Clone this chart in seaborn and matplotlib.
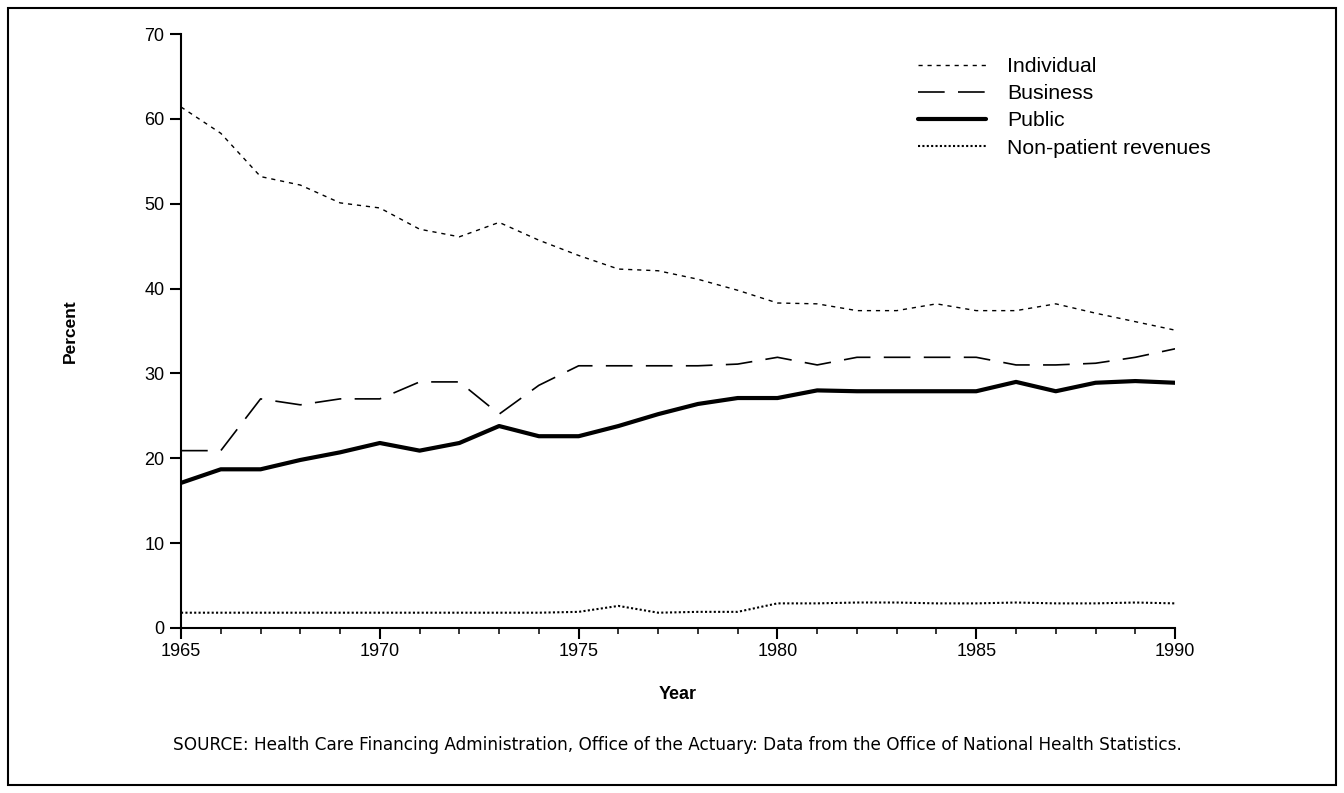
import matplotlib
matplotlib.use("Agg")
import matplotlib.pyplot as plt
from matplotlib.patches import Rectangle
from matplotlib.ticker import MultipleLocator
import seaborn as sns
import pandas as pd

# ---------------------------
# Data
# ---------------------------
years = list(range(1965, 1991))
individual = [61.4, 58.3, 53.2, 52.2, 50.1, 49.5, 47.0, 46.1, 47.8, 45.7, 43.9, 42.3, 42.1,
              41.1, 39.8, 38.3, 38.2, 37.4, 37.4, 38.2, 37.4, 37.4, 38.2, 37.1, 36.1, 35.1]
business = [20.9, 20.9, 27.0, 26.3, 27.0, 27.0, 29.0, 29.0, 25.2, 28.6, 30.9, 30.9, 30.9,
            30.9, 31.1, 31.9, 31.0, 31.9, 31.9, 31.9, 31.9, 31.0, 31.0, 31.2, 31.9, 32.9]
public = [17.1, 18.7, 18.7, 19.8, 20.7, 21.8, 20.9, 21.8, 23.8, 22.6, 22.6, 23.8, 25.2,
          26.4, 27.1, 27.1, 28.0, 27.9, 27.9, 27.9, 27.9, 29.0, 27.9, 28.9, 29.1, 28.9]
nonpatient = [1.8, 1.8, 1.8, 1.8, 1.8, 1.8, 1.8, 1.8, 1.8, 1.8, 1.9, 2.6, 1.8,
              1.9, 1.9, 2.9, 2.9, 3.0, 3.0, 2.9, 2.9, 3.0, 2.9, 2.9, 3.0, 2.9]

series_names = ["Individual", "Business", "Public", "Non-patient revenues"]
source_note = ("SOURCE: Health Care Financing Administration, Office of the Actuary: "
               "Data from the Office of National Health Statistics.")

df = pd.concat([
    pd.DataFrame({"Year": years, "Percent": vals, "Source": name})
    for name, vals in zip(series_names, [individual, business, public, nonpatient])
], ignore_index=True)

# ---------------------------
# Style
# ---------------------------
sns.set_theme(style="ticks")
plt.rcParams["font.family"] = ["Liberation Sans", "DejaVu Sans"]
plt.rcParams["axes.edgecolor"] = "black"
plt.rcParams["text.color"] = "black"

fig = plt.figure(figsize=(13.44, 7.93), dpi=100)
ax = fig.add_axes([0.1347, 0.2081, 0.7396, 0.7490])

sns.lineplot(
    data=df, x="Year", y="Percent", hue="Source", style="Source", size="Source",
    hue_order=series_names, style_order=series_names, size_order=series_names,
    palette={n: "black" for n in series_names},
    dashes={"Individual": (3, 3.5), "Business": (16, 8), "Public": "",
            "Non-patient revenues": (1, 1.1)},
    sizes={"Individual": 1.0, "Business": 1.2, "Public": 3.0, "Non-patient revenues": 1.5},
    legend=False, ax=ax,
)

ax.set_xlim(1965, 1990)
ax.set_ylim(0, 70)
ax.xaxis.set_major_locator(MultipleLocator(5))
ax.xaxis.set_minor_locator(MultipleLocator(1))
ax.yaxis.set_major_locator(MultipleLocator(10))
ax.tick_params(axis="both", which="major", length=8, width=1.5, labelsize=13, colors="black")
ax.tick_params(axis="x", which="minor", length=4, width=1.3)
ax.tick_params(axis="x", which="major", pad=3)
ax.tick_params(axis="y", which="major", pad=4)
for side in ["left", "bottom"]:
    ax.spines[side].set_linewidth(1.5)
sns.despine(ax=ax)

ax.set_xlabel("")
ax.set_ylabel("")
fig.text(0.052, 0.583, "Percent", rotation=90, ha="center", va="center",
         fontsize=12.5, fontweight="bold")
fig.text(0.504, 0.124, "Year", ha="center", va="center", fontsize=13, fontweight="bold")
fig.text(0.504, 0.060, source_note, ha="center", va="center", fontsize=12.2,
         family=["DejaVu Sans"])

leg = ax.legend(handles=ax.lines[:4], labels=series_names, loc="upper left",
                bbox_to_anchor=(0.737, 0.968), frameon=False, fontsize=15.3,
                handlelength=3.2, handletextpad=1.0, labelspacing=0.38,
                borderaxespad=0, borderpad=0.2)

# outer frame round the whole figure
fig.patches.append(Rectangle((0.006, 0.010), 0.988, 0.980, transform=fig.transFigure,
                             fill=False, edgecolor="black", linewidth=1.5))

fig.savefig("out.png", dpi=100)
